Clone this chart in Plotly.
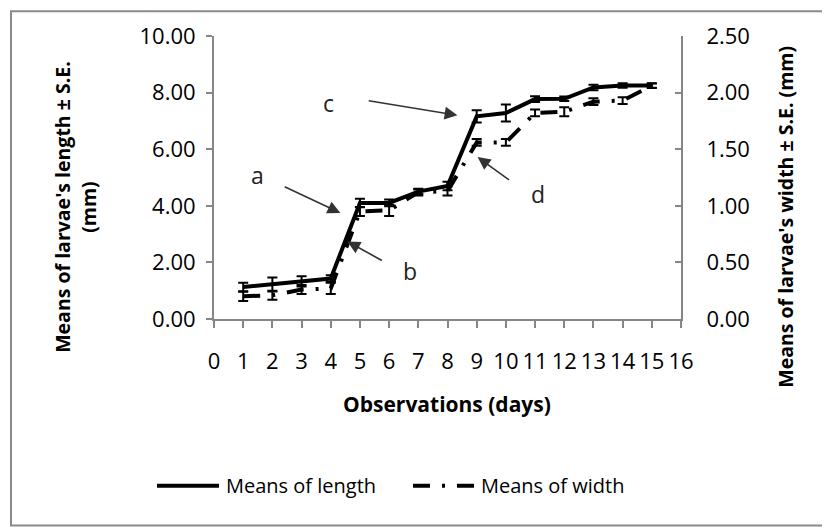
import plotly.graph_objects as go

days = list(range(1, 16))
length_mean = [1.13, 1.22, 1.33, 1.43, 4.10, 4.10, 4.50, 4.70, 7.16, 7.28, 7.77, 7.78, 8.18, 8.25, 8.25]
length_se = [0.15, 0.25, 0.18, 0.12, 0.15, 0.12, 0.08, 0.15, 0.22, 0.30, 0.10, 0.08, 0.10, 0.08, 0.08]
width_mean = [0.20, 0.21, 0.26, 0.27, 0.95, 0.96, 1.12, 1.13, 1.56, 1.56, 1.82, 1.83, 1.92, 1.93, 2.06]
width_se = [0.04, 0.04, 0.04, 0.05, 0.04, 0.05, 0.03, 0.04, 0.03, 0.03, 0.03, 0.04, 0.03, 0.03, 0.02]

x_ticks = list(range(0, 17))
y1_ticks = [0, 2, 4, 6, 8, 10]
y2_ticks = [0, 0.5, 1.0, 1.5, 2.0, 2.5]

# annotation labels: (text, text_x, text_y, tail_x, tail_y, head_x, head_y) in left-axis data units
labels = [
    ("a", 1.48, 5.09, 2.37, 4.70, 4.33, 3.75),
    ("b", 6.70, 1.68, 5.80, 2.04, 4.57, 2.74),
    ("c", 3.91, 7.65, 5.25, 7.72, 8.34, 7.20),
    ("d", 11.09, 4.42, 10.16, 4.88, 9.03, 5.72),
]

FONT = "Open Sans"
GRAY = "#868686"
DASH = "17px,12px,3px,12px"

fig = go.Figure()
fig.add_trace(go.Scatter(
    x=days, y=length_mean, name="Means of length", mode="lines",
    line=dict(color="black", width=4),
    error_y=dict(type="data", array=length_se, color="black", thickness=2, width=5),
    showlegend=False,
))
fig.add_trace(go.Scatter(
    x=days, y=width_mean, name="Means of width", mode="lines", yaxis="y2",
    line=dict(color="black", width=4, dash=DASH),
    error_y=dict(type="data", array=width_se, color="black", thickness=2, width=5),
    showlegend=False,
))

ann = []
for t, tx, ty, ax, ay, hx, hy in labels:
    ann.append(dict(x=tx, y=ty, xref="x", yref="y", text=t, showarrow=False,
                    xanchor="center", yanchor="middle",
                    font=dict(family=FONT, size=23, color="#222")))
    ann.append(dict(x=hx, y=hy, xref="x", yref="y", ax=ax, ay=ay, axref="x", ayref="y",
                    text="", showarrow=True, arrowhead=2, arrowsize=1.6, arrowwidth=1.6,
                    arrowcolor="#333"))

OFF = 8  # page body margin
W, H = 830 - OFF, 529 - OFF
L, R, T, B = 214 - OFF, 149, 34 - OFF, 210
pw = W - L - R
ph = H - T - B


def px(xp):
    return (xp - OFF - L) / pw


def py(yp):
    return (H - B - (yp - OFF)) / ph


ann += [
    dict(x=px(75), y=py(206), xref="paper", yref="paper", textangle=-90, showarrow=False,
         xanchor="center", yanchor="middle",
         text="<b>Means of larvae's length ± S.E.<br>(mm)</b>",
         font=dict(family=FONT, size=19.5, color="black")),
    dict(x=px(786), y=py(216), xref="paper", yref="paper", textangle=-90, showarrow=False,
         xanchor="center", yanchor="middle",
         text="<b>Means of larvae's width ± S.E. (mm)</b>",
         font=dict(family=FONT, size=19.5, color="black")),
    dict(x=px(447), y=py(405), xref="paper", yref="paper", showarrow=False,
         xanchor="center", yanchor="middle",
         text="<b>Observations (days)</b>",
         font=dict(family=FONT, size=21, color="black")),
    dict(x=px(224), y=py(487), xref="paper", yref="paper", showarrow=False,
         xanchor="left", yanchor="middle",
         text="Means of length", font=dict(family=FONT, size=20, color="black")),
    dict(x=px(479), y=py(487), xref="paper", yref="paper", showarrow=False,
         xanchor="left", yanchor="middle",
         text="Means of width", font=dict(family=FONT, size=20, color="black")),
]

shapes = [
    dict(type="rect", xref="paper", yref="paper", x0=px(11), x1=px(1000), y0=py(527), y1=py(9),
         line=dict(color="#8a8a8a", width=2), layer="below"),
    dict(type="line", xref="paper", yref="paper", x0=px(157), x1=px(219), y0=py(487), y1=py(487),
         line=dict(color="black", width=4)),
    dict(type="line", xref="paper", yref="paper", x0=px(413), x1=px(477), y0=py(487), y1=py(487),
         line=dict(color="black", width=4, dash=DASH)),
]

fig.update_layout(
    width=W, height=H,
    margin=dict(l=L, r=R, t=T, b=B),
    paper_bgcolor="white", plot_bgcolor="white",
    font=dict(family=FONT, color="black"),
    annotations=ann, shapes=shapes,
    xaxis=dict(range=[0, 16], tickvals=x_ticks, ticktext=[str(v) for v in x_ticks],
               showgrid=False, zeroline=False, showline=True, linecolor=GRAY, linewidth=2,
               ticks="outside", ticklen=7, tickcolor=GRAY, tickwidth=1.5,
               tickfont=dict(family=FONT, size=22, color="black"), ticklabelstandoff=15),
    yaxis=dict(range=[0, 10], tickvals=y1_ticks, tickformat=".2f",
               showgrid=False, zeroline=False, showline=True, linecolor=GRAY, linewidth=2,
               ticks="outside", ticklen=6, tickcolor=GRAY, tickwidth=1.5,
               tickfont=dict(family=FONT, size=22, color="black"), ticklabelstandoff=6),
    yaxis2=dict(range=[0, 2.5], tickvals=y2_ticks, tickformat=".2f", overlaying="y", side="right",
                showgrid=False, zeroline=False, showline=True, linecolor=GRAY, linewidth=2,
                ticks="inside", ticklen=6, tickcolor=GRAY, tickwidth=1.5,
                tickfont=dict(family=FONT, size=22, color="black"), ticklabelstandoff=19),
)

fig.write_html("out.html")
